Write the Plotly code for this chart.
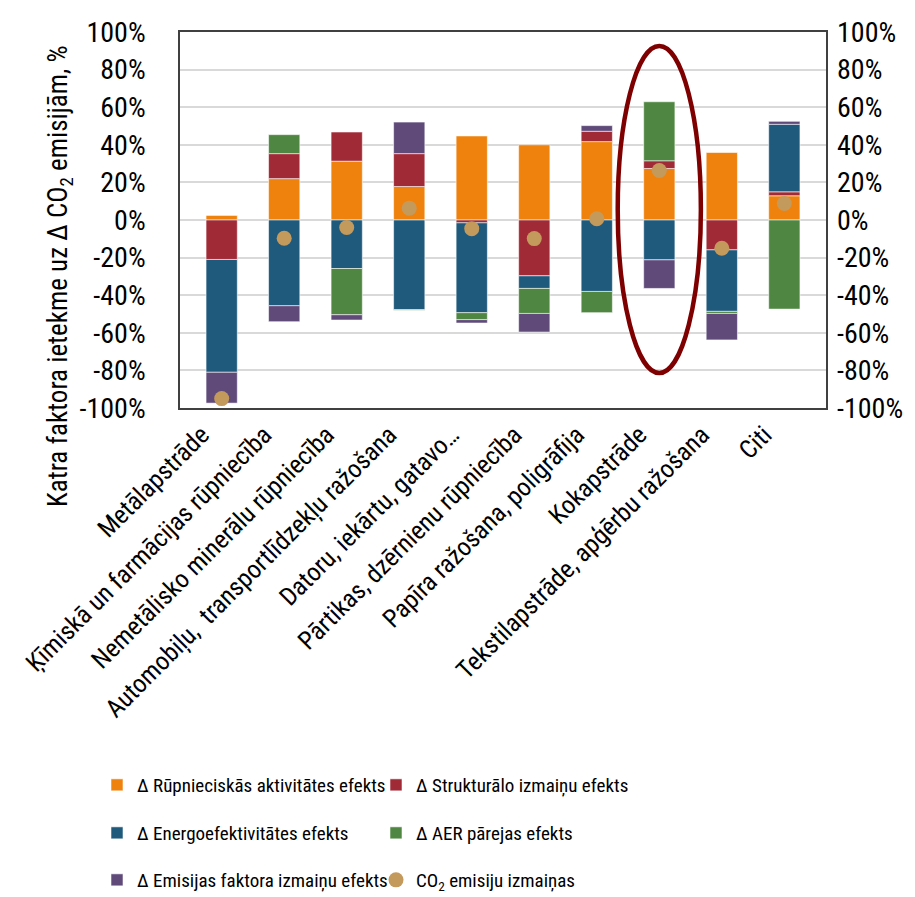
import plotly.graph_objects as go

categories = [
    "Metālapstrāde",
    "Ķīmiskā un farmācijas rūpniecība",
    "Nemetālisko minerālu rūpniecība",
    "Automobiļu,  transportlīdzekļu ražošana",
    "Datoru, iekārtu, gatavo…",
    "Pārtikas, dzērnienu rūpniecība",
    "Papīra ražošana, poligrāfija",
    "Kokapstrāde",
    "Tekstilapstrāde, apģērbu ražošana",
    "Citi",
]

activity = [2.6, 22.0, 31.3, 17.8, 44.7, 40.0, 41.7, 27.4, 35.9, 12.9]
structural = [-21.0, 13.3, 15.5, 17.5, -1.5, -29.7, 5.5, 4.1, -15.9, 2.1]
energy_eff = [-60.0, -45.6, -25.8, -47.7, -47.8, -6.7, -38.0, -21.2, -32.7, 35.9]
aer = [0.0, 10.1, -24.6, -0.3, -3.7, -13.3, -11.3, 31.4, -1.1, -47.4]
emis_factor = [-16.4, -8.5, -2.8, 16.8, -1.8, -9.9, 3.0, -15.2, -14.1, 1.6]
co2_change = [-95.0, -9.7, -4.0, 6.3, -4.6, -9.9, 0.7, 26.3, -15.0, 8.8]

series_names = [
    "Δ Rūpnieciskās aktivitātes efekts",
    "Δ Strukturālo izmaiņu efekts",
    "Δ Energoefektivitātes efekts",
    "Δ AER pārejas efekts",
    "Δ Emisijas faktora izmaiņu efekts",
]
dot_name = "CO<sub>2</sub> emisiju izmaiņas"
y_title = "Katra faktora ietekme uz Δ CO<sub>2</sub> emisijām, %"
y_ticks = [-100, -80, -60, -40, -20, 0, 20, 40, 60, 80, 100]
y_tick_labels = [f"{v}%" for v in y_ticks]
highlight_category = "Kokapstrāde"

colors = ["#EF820D", "#A12A37", "#1F5A7D", "#4F8742", "#5F4A7A"]
dot_color = "#C49A5C"
legend_ids = ["legend", "legend", "legend2", "legend2", "legend3"]

FONT = "Roboto Condensed, Liberation Sans Narrow, Arial Narrow, Liberation Sans, sans-serif"

fig = go.Figure()
for name, vals, col, lg in zip(series_names,
                               [activity, structural, energy_eff, aer, emis_factor],
                               colors, legend_ids):
    fig.add_trace(go.Bar(
        x=categories, y=vals, name=name, legend=lg,
        marker=dict(color=col, line=dict(color="rgba(255,255,255,0.55)", width=1)),
    ))

fig.add_trace(go.Scatter(
    x=categories, y=co2_change, name=dot_name, mode="markers", legend="legend3",
    marker=dict(color=dot_color, size=15),
))
# invisible trace to activate the right axis
fig.add_trace(go.Scatter(
    x=categories, y=co2_change, mode="markers", yaxis="y2", showlegend=False,
    marker=dict(opacity=0), hoverinfo="skip",
))

# ellipse highlight around one category
hi = categories.index(highlight_category)
fig.add_shape(type="circle", xref="x", yref="y",
              x0=hi - 0.665, x1=hi + 0.665, y0=-81.4, y1=92.6,
              line=dict(color="#7F0000", width=4.5))

W, H = 915, 897
L, R, T, B = 172, 97, 24, 497
plot_w = W - L - R
plot_h = H - T - B

def row_y(px):
    return (H - B - px) / plot_h

fig.add_annotation(
    text=y_title, textangle=-90, showarrow=False,
    xref="paper", yref="paper",
    x=(52 - L) / plot_w, y=row_y(268), xanchor="center", yanchor="middle",
    font=dict(family=FONT, size=27, color="#000000"),
)

legend_common = dict(
    orientation="h", xref="container", x=89 / W, xanchor="left",
    yanchor="middle", entrywidth=234, entrywidthmode="pixels",
    font=dict(family=FONT, size=19, color="#000000"),
    bgcolor="rgba(0,0,0,0)", itemclick=False,
)

fig.update_layout(
    width=W, height=H,
    margin=dict(l=L, r=R, t=T, b=B, autoexpand=False),
    paper_bgcolor="white", plot_bgcolor="white",
    barmode="relative", bargap=0.5,
    font=dict(family=FONT, size=24, color="#000000"),
    legend=dict(legend_common, y=row_y(777)),
    legend2=dict(legend_common, y=row_y(825)),
    legend3=dict(legend_common, y=row_y(872)),
    xaxis=dict(
        tickangle=-45, showline=True, mirror=True, linecolor="#404040", linewidth=1.5,
        ticks="", tickfont=dict(family=FONT, size=25.5), ticklabelshift=-20,
    ),
    yaxis=dict(
        range=[-100, 100], tickvals=y_ticks, ticktext=y_tick_labels,
        showgrid=True, gridcolor="#D9D9D9", gridwidth=1.5,
        zeroline=True, zerolinecolor="#D9D9D9", zerolinewidth=1.5,
        showline=True, mirror=True, linecolor="#404040", linewidth=1.5,
        ticks="", tickfont=dict(family=FONT, size=28), ticklabelstandoff=27,
    ),
    yaxis2=dict(
        range=[-100, 100], tickvals=y_ticks, ticktext=y_tick_labels,
        overlaying="y", side="right", showgrid=False, zeroline=False,
        ticks="", tickfont=dict(family=FONT, size=28), ticklabelstandoff=10,
    ),
)

fig.write_html("out.html")
